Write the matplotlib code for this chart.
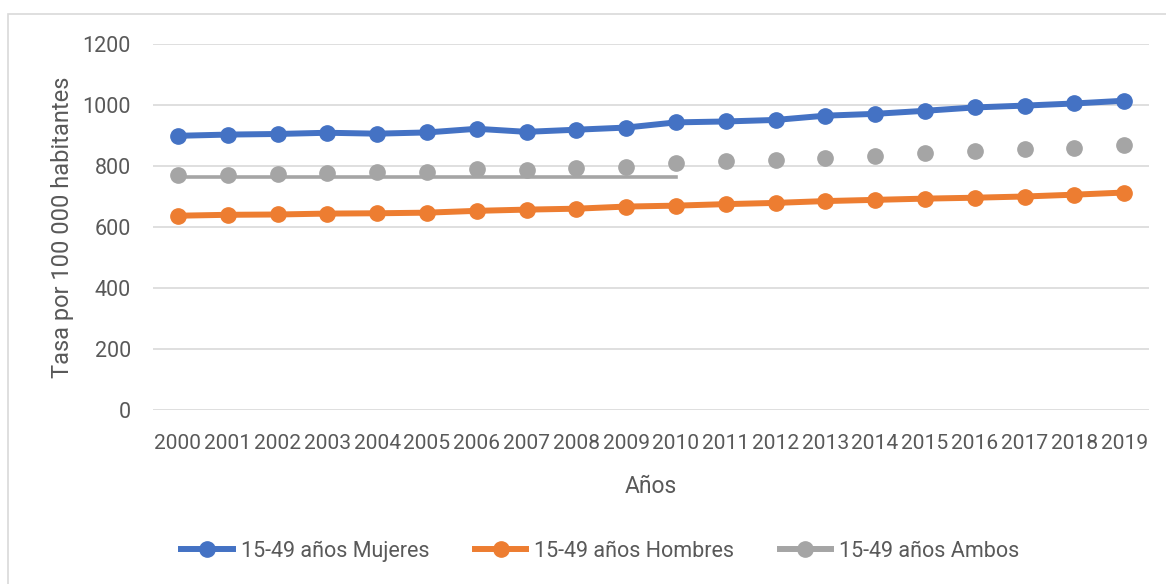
import matplotlib
matplotlib.use("Agg")
import matplotlib.pyplot as plt
from matplotlib.lines import Line2D
from matplotlib.patches import Rectangle

anios = ["2000", "2001", "2002", "2003", "2004", "2005", "2006", "2007", "2008", "2009",
         "2010", "2011", "2012", "2013", "2014", "2015", "2016", "2017", "2018", "2019"]
mujeres = [899, 903, 905, 909, 906, 910, 922, 912, 919, 926,
           943, 946, 951, 965, 971, 981, 992, 998, 1005, 1014]
hombres = [637, 640, 641, 644, 645, 647, 653, 657, 660, 667,
           670, 675, 679, 685, 689, 693, 696, 700, 706, 713]
ambos = [772, 772, 775, 778, 779, 781, 791, 788, 794, 798,
         810, 815, 820, 827, 834, 843, 850, 855, 859, 869]
# linea gris horizontal 2000-2010
ambos_linea = [765, 765, 765, 765, 765, 765, 765, 765, 765, 765, 765]

AZUL = "#4472C4"
NARANJA = "#ED7D31"
GRIS = "#A5A5A5"
TEXTO = "#595959"
FS = 15.5

plt.rcParams['font.family'] = ['Roboto', 'DejaVu Sans']

fig = plt.figure(figsize=(11.66, 5.84), dpi=100)
fig.patches.append(Rectangle((8 / 1166, -0.05), 1.2, 1 - 14 / 584 + 0.05, transform=fig.transFigure,
                             fill=False, edgecolor="#D9D9D9", linewidth=1.2))
ax = fig.add_axes([153 / 1166, 1 - 410 / 584, (1149 - 153) / 1166, (410 - 44) / 584])

x = list(range(len(anios)))
ax.plot(x, mujeres, color=AZUL, lw=4.3, marker="o", ms=11, zorder=3)
ax.plot(x, hombres, color=NARANJA, lw=4.3, marker="o", ms=11, zorder=3)
ax.plot(x, ambos, color=GRIS, ls="none", marker="o", ms=11, zorder=3)
ax.plot(x[:len(ambos_linea)], ambos_linea, color=GRIS, lw=2.6, zorder=2)

ax.set_xlim(-0.5, len(anios) - 0.5)
ax.set_ylim(0, 1200)
ax.set_yticks([0, 200, 400, 600, 800, 1000, 1200])
ax.set_xticks(x)
ax.set_xticklabels(anios)
ax.grid(axis="y", color="#D9D9D9", lw=1.2)
ax.set_axisbelow(True)
for s in ax.spines.values():
    s.set_visible(False)
ax.tick_params(axis="both", length=0, labelsize=FS, labelcolor=TEXTO)
ax.tick_params(axis="x", labelsize=15.1, pad=17)
ax.tick_params(axis="y", pad=16)
ax.set_xlabel("Años", fontsize=16.5, color=TEXTO, labelpad=16)
ax.set_ylabel("Tasa por 100 000 habitantes", fontsize=17, color=TEXTO, labelpad=6)

handles = [Line2D([], [], color=AZUL, lw=4.3, marker="o", ms=11),
           Line2D([], [], color=NARANJA, lw=4.3, marker="o", ms=11),
           Line2D([], [], color=GRIS, lw=4.3, marker="o", ms=11)]
labels = ["15-49 años Mujeres", "15-49 años Hombres", "15-49 años Ambos"]
leg = fig.legend(handles, labels, loc="center", bbox_to_anchor=(0.515, 1 - 551 / 584), ncol=3,
                 frameon=False, fontsize=FS, handlelength=2.4, handletextpad=0.37,
                 columnspacing=2.1, labelcolor=TEXTO)

fig.savefig("out.png", dpi=100)
